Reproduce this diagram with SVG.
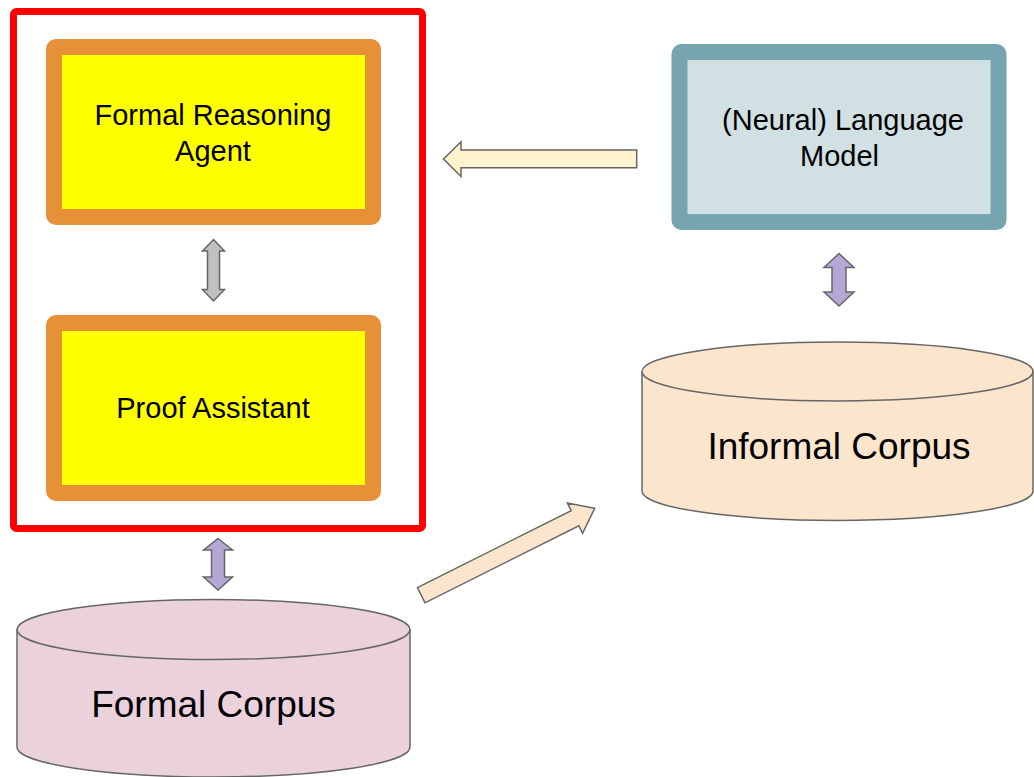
<svg xmlns="http://www.w3.org/2000/svg" width="1034" height="777" viewBox="0 0 1034 777">
<style>
  text { font-family: "Liberation Sans", Arial, sans-serif; fill: #000; text-anchor: middle; }
  .t29 { font-size: 29px; }
  .t37 { font-size: 37px; }
  .orange { fill: #ffff00; stroke: #e69138; stroke-width: 16; }
  .arr { stroke: #666666; stroke-width: 1.5; stroke-linejoin: miter; }
  .cyl { stroke: #666666; stroke-width: 1.5; }
</style>
<rect width="1034" height="777" fill="#ffffff"/>
<g id="container">
  <rect x="13.5" y="11.5" width="409" height="517" rx="3" fill="none" stroke="#ff0000" stroke-width="7"/>
</g>
<g id="formal-reasoning-agent">
  <rect class="orange" x="54" y="47" width="319" height="170" rx="2"/>
  <text class="t29" x="213" y="125">Formal Reasoning</text>
  <text class="t29" x="213" y="161">Agent</text>
</g>
<g id="proof-assistant">
  <rect class="orange" x="54" y="323" width="319" height="170" rx="2"/>
  <text class="t29" x="213" y="418">Proof Assistant</text>
</g>
<g id="language-model">
  <rect x="679.5" y="52" width="319" height="170" rx="2" fill="#d0e0e3" stroke="#76a5af" stroke-width="16"/>
  <text class="t29" x="843" y="130">(Neural) Language</text>
  <text class="t29" x="839.5" y="166">Model</text>
</g>
<g id="informal-corpus">
  <path class="cyl" fill="#fce5cd" d="M642,371.5 A195.5,29.5 0 0 1 1033,371.5 L1033,491 A195.5,29.5 0 0 1 642,491 Z"/>
  <path class="cyl" fill="none" d="M642,371.5 A195.5,29.5 0 0 0 1033,371.5"/>
  <text class="t37" x="839" y="459">Informal Corpus</text>
</g>
<g id="formal-corpus">
  <path class="cyl" fill="#ead1dc" d="M17,629.5 A196.5,30 0 0 1 410,629.5 L410,747 A196.5,30 0 0 1 17,747 Z"/>
  <path class="cyl" fill="none" d="M17,629.5 A196.5,30 0 0 0 410,629.5"/>
  <text class="t37" x="213.5" y="717">Formal Corpus</text>
</g>
<g id="connectors">
  <polygon class="arr" fill="#c0c0c0" points="213.5,239.5 224.5,251 219.5,251 219.5,289.5 224.5,289.5 213.5,301 202.5,289.5 207.5,289.5 207.5,251 202.5,251"/>
  <polygon class="arr" fill="#b4a7d6" points="218,538.5 232.5,550 224.5,550 224.5,577 232.5,577 218,590 203.5,577 211.5,577 211.5,550 203.5,550"/>
  <polygon class="arr" fill="#b4a7d6" points="839,253.5 854,267.5 846,267.5 846,292 854,292 839,306 824,292 832,292 832,267.5 824,267.5"/>
  <polygon class="arr" fill="#fff2cc" points="443.5,159 461,141.7 461,150 636.7,150 636.7,167.7 461,167.7 461,176.5"/>
  <polygon class="arr" fill="#fce5cd" transform="translate(421.2,595.2) rotate(-26.6)" points="0,-8.5 172,-8.5 172,-17 194,0 172,17 172,8.5 0,8.5"/>
</g>
</svg>
